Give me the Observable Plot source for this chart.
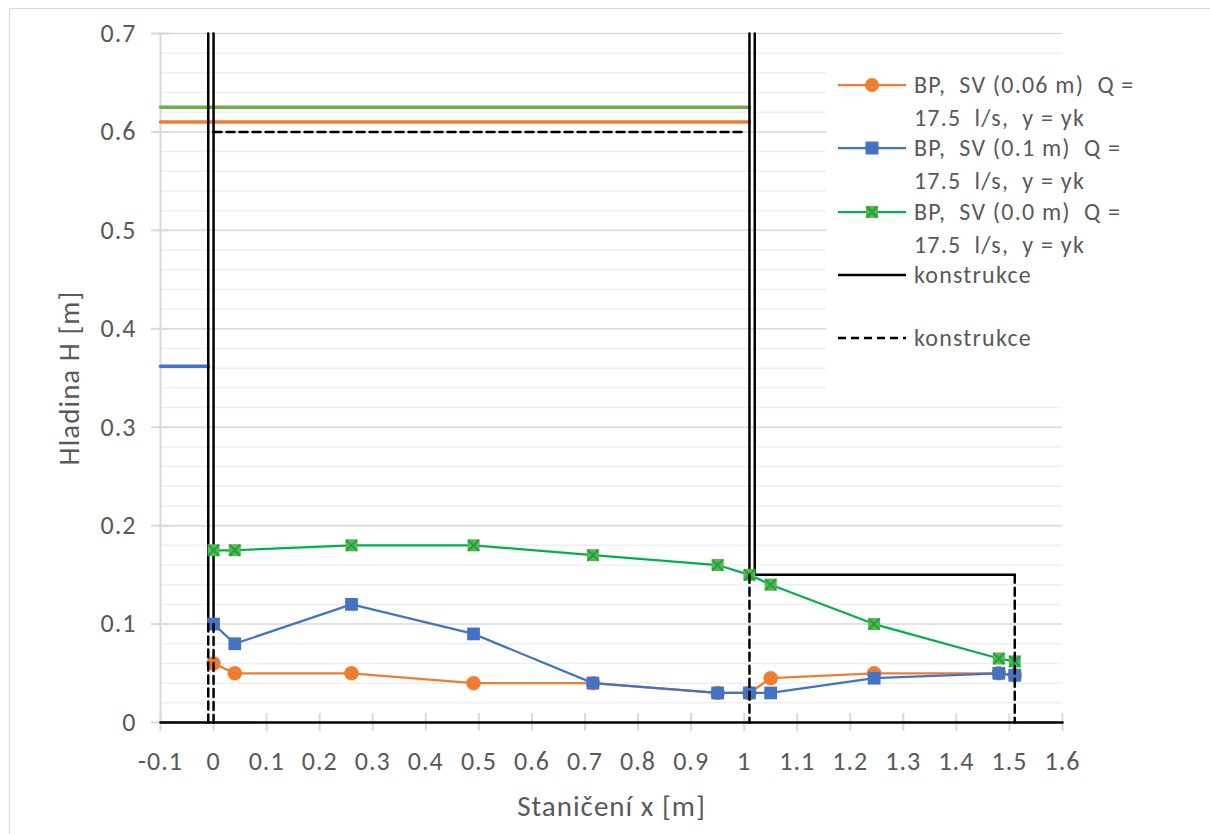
<!DOCTYPE html>
<html><head><meta charset="utf-8">
<script src="https://cdn.jsdelivr.net/npm/d3@7"></script>
<script src="https://cdn.jsdelivr.net/npm/@observablehq/plot@0.6"></script>
<style>
body{margin:0;background:#fff;}
#wrap{position:relative;width:1210px;height:834px;overflow:hidden;font-family:Carlito,Calibri,Lato,sans-serif;color:#595959;}
#frame{position:absolute;left:9px;top:8px;width:1300px;height:900px;border-left:1.5px solid #d9d9d9;border-top:1.5px solid #d9d9d9;}
#chart{position:absolute;left:0;top:0;}
#legend{position:absolute;left:826px;top:60px;width:384px;height:340px;background:#fff;}
#legend svg{position:absolute;left:0;top:0;}
.lt{position:absolute;white-space:pre;font-size:24px;letter-spacing:1.2px;line-height:1;transform:translateY(-50%);}
</style></head><body>
<div id="wrap"><div id="frame"></div><div id="chart"></div><div id="legend"></div></div>
<script>
// ---- data ----
const stations = [0, 0.04, 0.26, 0.49, 0.715, 0.95, 1.01, 1.05, 1.245, 1.48, 1.51];
const levelSV006 = [0.06, 0.05, 0.05, 0.04, 0.04, 0.03, 0.03, 0.045, 0.05, 0.05, 0.048];
const levelSV01  = [0.10, 0.08, 0.12, 0.09, 0.04, 0.03, 0.03, 0.03, 0.045, 0.05, 0.048];
const levelSV00  = [0.175, 0.175, 0.18, 0.18, 0.17, 0.16, 0.15, 0.14, 0.10, 0.065, 0.062];
const upstreamSV00 = [[-0.1, 0.625], [1.01, 0.625]];
const upstreamSV006 = [[-0.1, 0.61], [1.01, 0.61]];
const upstreamSV01 = [[-0.1, 0.362], [-0.01, 0.362]];
const constructionSolid = [
  [[-0.01, 0.7], [-0.01, 0.1], [0, 0.1], [0, 0.7]],
  [[1.02, 0.7], [1.02, 0.15]],
  [[1.01, 0.7], [1.01, 0.15], [1.51, 0.15]],
  [[-0.1, 0], [1.6, 0]]
];
const constructionDashed = [
  [[-0.01, 0], [-0.01, 0.1]],
  [[0, 0.1], [0, 0]],
  [[0, 0.6], [1.0, 0.6]],
  [[1.01, 0.15], [1.01, 0]],
  [[1.51, 0.15], [1.51, 0]]
];
const xTicks = [-0.1, 0, 0.1, 0.2, 0.3, 0.4, 0.5, 0.6, 0.7, 0.8, 0.9, 1, 1.1, 1.2, 1.3, 1.4, 1.5, 1.6];
const xTickLabels = ["-0.1","0","0.1","0.2","0.3","0.4","0.5","0.6","0.7","0.8","0.9","1","1.1","1.2","1.3","1.4","1.5","1.6"];
const yTicks = [0, 0.1, 0.2, 0.3, 0.4, 0.5, 0.6, 0.7];
const yTickLabels = ["0","0.1","0.2","0.3","0.4","0.5","0.6","0.7"];
const yMinor = [0.02,0.04,0.06,0.08,0.12,0.14,0.16,0.18,0.22,0.24,0.26,0.28,0.32,0.34,0.36,0.38,0.42,0.44,0.46,0.48,0.52,0.54,0.56,0.58,0.62,0.64,0.66,0.68];
const legendLines = [
  ["BP,  SV (0.06 m)  Q =", "17.5  l/s,  y = yk"],
  ["BP,  SV (0.1 m)  Q =", "17.5  l/s,  y = yk"],
  ["BP,  SV (0.0 m)  Q =", "17.5  l/s,  y = yk"],
  ["konstrukce"],
  ["konstrukce"]
];
const xTitle = "Staničení x [m]";
const yTitle = "Hladina H [m]";

// ---- tables ----
const ser = (ys) => stations.map((x, i) => ({x, y: ys[i]}));
const sOrange = ser(levelSV006), sBlue = ser(levelSV01), sGreen = ser(levelSV00);
const pts = (a) => a.map(([x, y]) => ({x, y}));
const segs = (list) => list.flatMap((s, k) => s.map(([x, y]) => ({x, y, k})));

const ORANGE = "#ED7D31", BLUE = "#4472C4", GREEN = "#00B050", OLIVE = "#70AD47";
const fmtX = (d) => xTickLabels[xTicks.findIndex(t => Math.abs(t - d) < 1e-9)];
const fmtY = (d) => yTickLabels[yTicks.findIndex(t => Math.abs(t - d) < 1e-9)];

const chart = Plot.plot({
  width: 1210, height: 834,
  marginLeft: 160, marginRight: 148, marginTop: 33, marginBottom: 112,
  x: {domain: [-0.1, 1.6]},
  y: {domain: [0, 0.7]},
  style: {fontFamily: "Carlito, Calibri, Lato, sans-serif", fontSize: "26px", letterSpacing: "1px", color: "#595959", background: "transparent"},
  marks: [
    Plot.ruleY(yMinor, {stroke: "#efefef", strokeWidth: 1.5}),
    Plot.ruleY(yTicks, {stroke: "#d9d9d9", strokeWidth: 1.5}),
    Plot.ruleX([-0.1], {y1: 0, y2: 0.7, stroke: "#d9d9d9", strokeWidth: 2}),
    Plot.ruleY(yTicks, {x1: -0.1, x2: -0.1, insetLeft: -9, insetRight: -9, stroke: "#d9d9d9", strokeWidth: 2}),
    Plot.ruleX(xTicks, {y1: 0, y2: 0, insetTop: -9, insetBottom: -9, stroke: "#d9d9d9", strokeWidth: 2}),
    Plot.axisY({ticks: yTicks, tickFormat: fmtY, tickSize: 0, tickPadding: 24, label: null}),
    Plot.axisX({ticks: xTicks, tickFormat: fmtX, tickSize: 0, tickPadding: 29, label: null}),
    Plot.line(pts(upstreamSV00), {x: "x", y: "y", stroke: OLIVE, strokeWidth: 3.5}),
    Plot.line(pts(upstreamSV006), {x: "x", y: "y", stroke: ORANGE, strokeWidth: 3.5}),
    Plot.line(pts(upstreamSV01), {x: "x", y: "y", stroke: BLUE, strokeWidth: 3.5}),
    Plot.line(segs(constructionSolid), {x: "x", y: "y", z: "k", stroke: "#000", strokeWidth: 2.5, strokeLinejoin: "miter"}),
    Plot.line(sOrange, {x: "x", y: "y", stroke: ORANGE, strokeWidth: 2.25}),
    Plot.dot(sOrange, {x: "x", y: "y", r: 7, fill: ORANGE, stroke: ORANGE, strokeWidth: 0.5}),
    Plot.line(sBlue, {x: "x", y: "y", stroke: BLUE, strokeWidth: 2.25}),
    Plot.dot(sBlue, {x: "x", y: "y", symbol: "square", r: 7.2, fill: BLUE}),
    Plot.line(sGreen, {x: "x", y: "y", stroke: GREEN, strokeWidth: 2.25}),
    Plot.dot(sGreen, {x: "x", y: "y", symbol: "square", r: 6.8, fill: OLIVE}),
    Plot.dot(sGreen, {x: "x", y: "y", symbol: "times", r: 5, stroke: GREEN, strokeWidth: 2}),
    Plot.line(segs(constructionDashed), {x: "x", y: "y", z: "k", stroke: "#000", strokeWidth: 2.5, strokeDasharray: "8,5"}),
    Plot.text([yTitle], {frameAnchor: "left", textAnchor: "middle", lineAnchor: "middle", rotate: -90, dx: -91, fontSize: 29, fill: "#595959"}),
    Plot.text([xTitle], {frameAnchor: "bottom", textAnchor: "middle", lineAnchor: "middle", dy: 84, fontSize: 29, fill: "#595959"})
  ]
});
document.getElementById("chart").appendChild(chart);

// ---- legend ----
const lg = document.getElementById("legend");
const rows = [
  {y: 25, lines: [25, 58]},
  {y: 88, lines: [88, 121]},
  {y: 152, lines: [152, 185]},
  {y: 215, lines: [215]},
  {y: 278, lines: [278]}
];
const svg = d3.select(lg).append("svg").attr("width", 384).attr("height", 340);
const styles = [
  {stroke: ORANGE, marker: "circle", fill: ORANGE},
  {stroke: BLUE, marker: "square", fill: BLUE},
  {stroke: GREEN, marker: "xsq", fill: OLIVE},
  {stroke: "#000"},
  {stroke: "#000", dash: "8,5"}
];
rows.forEach((r, i) => {
  const st = styles[i];
  svg.append("line").attr("x1", 12).attr("x2", 80).attr("y1", r.y).attr("y2", r.y)
    .attr("stroke", st.stroke).attr("stroke-width", i >= 3 ? 2.5 : 2.25)
    .attr("stroke-dasharray", st.dash || null);
  if (st.marker === "circle") svg.append("circle").attr("cx", 46).attr("cy", r.y).attr("r", 7).attr("fill", st.fill);
  if (st.marker === "square") svg.append("rect").attr("x", 46 - 6.5).attr("y", r.y - 6.5).attr("width", 13).attr("height", 13).attr("fill", st.fill);
  if (st.marker === "xsq") {
    svg.append("rect").attr("x", 46 - 6).attr("y", r.y - 6).attr("width", 12).attr("height", 12).attr("fill", st.fill);
    svg.append("path").attr("d", d3.symbol(d3.symbolTimes, Math.PI * 25)()).attr("transform", `translate(46,${r.y})`)
      .attr("stroke", GREEN).attr("stroke-width", 2).attr("fill", "none");
  }
  legendLines[i].forEach((t, j) => {
    const d = document.createElement("div");
    d.className = "lt";
    d.style.left = "88px";
    d.style.top = r.lines[j] + "px";
    d.textContent = t;
    lg.appendChild(d);
  });
});
</script>
</body></html>
